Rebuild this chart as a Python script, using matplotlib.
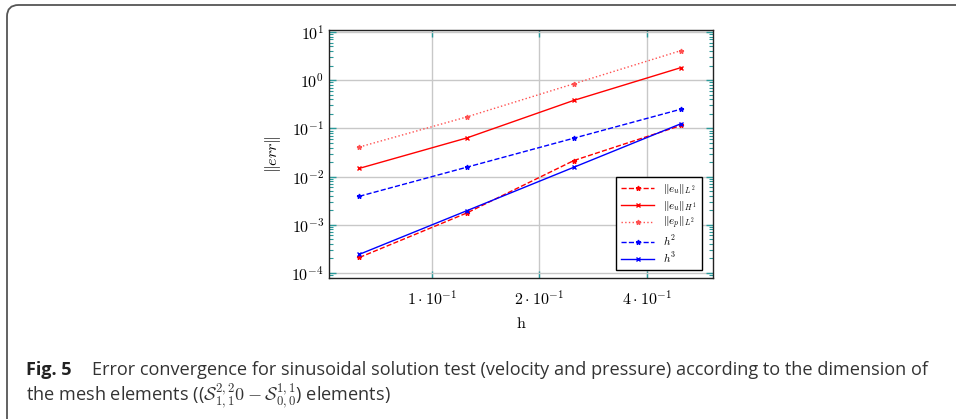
import matplotlib
matplotlib.use('Agg')
import matplotlib.pyplot as plt
from matplotlib.patches import FancyBboxPatch
from matplotlib.ticker import FixedLocator, LogLocator, NullFormatter

# data
h = [0.0625, 0.125, 0.25, 0.5]
eu_l2 = [2.1e-4, 1.75e-3, 0.0215, 0.115]
eu_h1 = [0.0148, 0.063, 0.38, 1.82]
ep_l2 = [0.041, 0.172, 0.84, 4.1]
ref_h2 = [0.0039, 0.0156, 0.0625, 0.25]
ref_h3 = [0.000244, 0.00195, 0.0156, 0.125]

xticks = [0.1, 0.2, 0.4]
xticklabels = [r'$1\cdot10^{-1}$', r'$2\cdot10^{-1}$', r'$4\cdot10^{-1}$']
yticks = [1e-4, 1e-3, 1e-2, 1e-1, 1e0, 1e1]
yticklabels = [r'$10^{-4}$', r'$10^{-3}$', r'$10^{-2}$', r'$10^{-1}$', r'$10^{0}$', r'$10^{1}$']

plt.rcParams['mathtext.fontset'] = 'cm'
teal = '#2a9a9a'

fig = plt.figure(figsize=(9.56, 4.19), dpi=100)
ax = fig.add_axes([0.344, 0.3365, 0.4017, 0.592])

ax.plot(h, eu_l2, color='red', ls='--', marker='*', ms=3.5, lw=1, label=r'$\|e_u\|_{L^2}$')
ax.plot(h, eu_h1, color='red', ls='-', marker='x', ms=3.5, lw=1, label=r'$\|e_u\|_{H^1}$')
ax.plot(h, ep_l2, color='#ff5050', ls=':', marker='*', ms=3.5, lw=1, label=r'$\|e_p\|_{L^2}$')
ax.plot(h, ref_h2, color='blue', ls='--', marker='*', ms=3.5, lw=1, label=r'$h^2$')
ax.plot(h, ref_h3, color='blue', ls='-', marker='x', ms=3.5, lw=1, label=r'$h^3$')

ax.set_xscale('log')
ax.set_yscale('log')
ax.set_xlim(0.0513, 0.614)
ax.set_ylim(10 ** -4.104, 10 ** 1.04)

ax.xaxis.set_major_locator(FixedLocator(xticks))
ax.set_xticklabels(xticklabels)
ax.xaxis.set_minor_locator(FixedLocator([]))
ax.yaxis.set_major_locator(FixedLocator(yticks))
ax.set_yticklabels(yticklabels)
ax.yaxis.set_minor_locator(LogLocator(base=10, subs=range(2, 10), numticks=20))
ax.yaxis.set_minor_formatter(NullFormatter())

ax.tick_params(which='both', direction='in', top=True, right=True, color=teal, labelsize=11.5)
ax.tick_params(which='major', length=5, width=1)
ax.tick_params(which='minor', length=3, width=0.8)
ax.tick_params(axis='x', pad=8)
ax.grid(True, which='major', color='#c8c8c8', lw=1)
ax.set_axisbelow(True)
for s in ax.spines.values():
    s.set_linewidth(1)
    s.set_color('#222222')

ax.set_xlabel(r'$\mathrm{h}$', fontsize=11.5, labelpad=6)
ax.set_ylabel(r'$\|err\|$', fontsize=11.5, labelpad=6)

leg = ax.legend(loc='lower right', bbox_to_anchor=(0.971, 0.032), borderaxespad=0,
                fontsize=8, handlelength=3.0, fancybox=False, framealpha=1,
                edgecolor='black', labelspacing=0.2, borderpad=0.45)
leg.get_frame().set_linewidth(1)

# border box around figure + caption
box = FancyBboxPatch((7 / 956, -0.1), 1.2, (419 - 5) / 419 + 0.1,
                     boxstyle='round,pad=0,rounding_size=0.012', mutation_aspect=956 / 419,
                     transform=fig.transFigure,
                     fill=False, edgecolor='#555555', lw=1.3, clip_on=False)
fig.patches.append(box)

t1 = fig.text(26 / 956, 1 - 375 / 419, 'Fig. 5', fontsize=13, fontweight='bold',
              family='Open Sans', color='#222222')
fig.canvas.draw()
bb = t1.get_window_extent()
fig.text((bb.x1 + 20) / 956, 1 - 375 / 419,
         'Error convergence for sinusoidal solution test (velocity and pressure) according to the dimension of',
         fontsize=13.1, family='Open Sans', color='#333333')
fig.text(26 / 956, 1 - 401 / 419,
         r'the mesh elements (($\mathcal{S}^{2,2}_{1,1}0-\mathcal{S}^{1,1}_{0,0}$) elements)',
         fontsize=13.1, family='Open Sans', color='#333333')

fig.savefig('out.png', dpi=100)
